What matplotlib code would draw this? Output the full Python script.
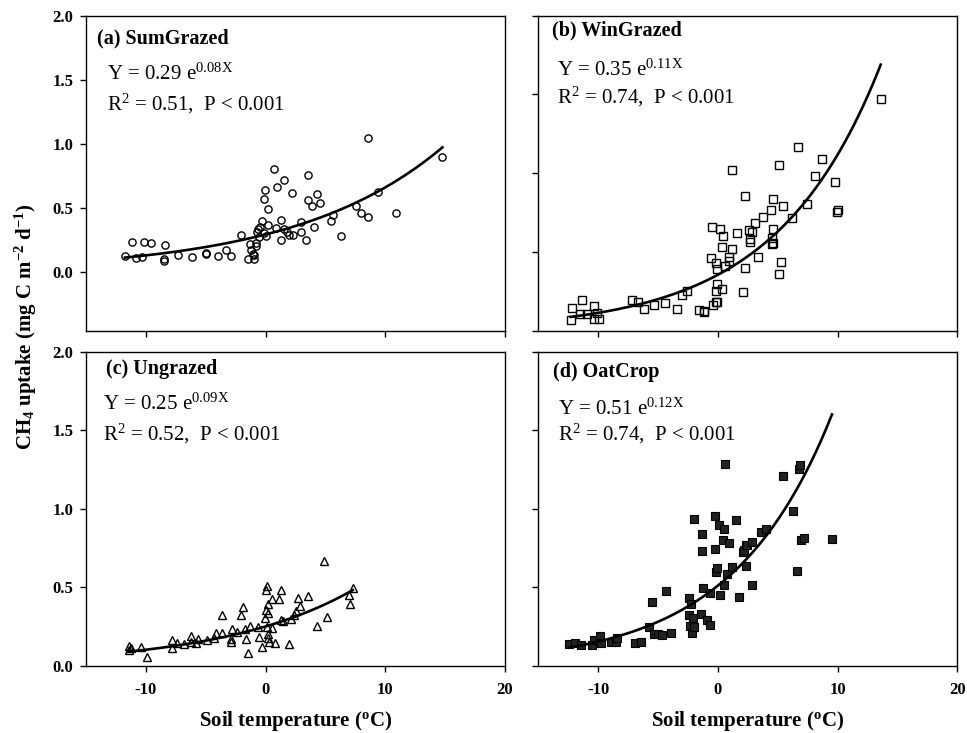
import numpy as np
import matplotlib
matplotlib.use("Agg")
import matplotlib.pyplot as plt

plt.rcParams['font.family'] = ['Liberation Serif', 'DejaVu Serif']
plt.rcParams['mathtext.fontset'] = 'custom'
plt.rcParams['mathtext.rm'] = 'Liberation Serif'
plt.rcParams['mathtext.it'] = 'Liberation Serif:italic'
plt.rcParams['mathtext.bf'] = 'Liberation Serif:bold'

# ---------------- data ----------------
a_x = [-11.75, -11.17, -10.86, -10.33, -10.17, -9.56, -8.5, -8.5, -8.39, -7.28,
       -6.11, -5.0, -5.0, -3.97, -3.3, -2.92, -2.08, -1.5, -1.31, -1.19,
       -1.08, -0.97, -1.0, -0.83, -0.81, -0.69, -0.61, -0.56, -0.44, -0.31,
       -0.11, -0.06, -0.14, 0.03, 0.19, 0.19, 0.69, 0.86, 0.92, 1.31,
       1.31, 1.53, 1.53, 1.81, 1.97, 2.19, 2.31, 3.0, 3.0, 3.39,
       3.53, 3.53, 3.89, 4.08, 4.28, 4.58, 5.5, 5.61, 6.33, 7.53,
       7.97, 8.53, 8.58, 9.39, 10.86, 14.78]
a_y = [0.127, 0.234, 0.114, 0.119, 0.234, 0.228, 0.088, 0.099, 0.213, 0.13,
       0.117, 0.143, 0.153, 0.125, 0.174, 0.125, 0.286, 0.101, 0.218, 0.174,
       0.14, 0.104, 0.132, 0.226, 0.205, 0.312, 0.335, 0.278, 0.356, 0.402,
       0.571, 0.644, 0.304, 0.283, 0.496, 0.366, 0.807, 0.345, 0.665, 0.408,
       0.247, 0.719, 0.335, 0.312, 0.286, 0.62, 0.286, 0.389, 0.312, 0.254,
       0.758, 0.563, 0.517, 0.356, 0.607, 0.54, 0.4, 0.447, 0.283, 0.517,
       0.462, 0.428, 1.046, 0.626, 0.465, 0.898]

b_x = [-12.3, -12.19, -11.55, -11.39, -10.92, -10.33, -10.36, -10.08, -9.91, -7.16,
       -6.64, -6.14, -5.33, -4.39, -3.44, -2.97, -2.58, -1.58, -1.16, -1.19,
       -0.39, -0.19, -0.05, -0.19, -0.11, 0.34, -0.61, -0.19, -0.05, 0.58,
       0.95, 0.89, 0.34, 1.17, -0.53, 0.17, 0.42, 1.61, 1.17, 2.23,
       2.23, 2.11, 2.59, 2.64, 2.64, 2.89, 3.06, 3.31, 3.78, 4.45,
       4.64, 4.64, 4.53, 4.53, 4.64, 5.14, 5.42, 5.31, 5.12, 6.15,
       6.73, 7.48, 8.15, 8.67, 9.78, 9.95, 10.03, 13.6]
b_y = [0.068, 0.142, 0.106, 0.193, 0.106, 0.153, 0.072, 0.11, 0.074, 0.191,
       0.18, 0.136, 0.165, 0.174, 0.136, 0.225, 0.25, 0.133, 0.117, 0.127,
       0.161, 0.178, 0.18, 0.248, 0.294, 0.261, 0.458, 0.43, 0.39, 0.411,
       0.466, 0.439, 0.532, 0.515, 0.655, 0.642, 0.602, 0.621, 1.017, 0.852,
       0.394, 0.246, 0.636, 0.564, 0.58, 0.623, 0.68, 0.468, 0.72, 0.767,
       0.833, 0.648, 0.585, 0.549, 0.559, 1.049, 0.79, 0.436, 0.36, 0.712,
       1.167, 0.805, 0.981, 1.091, 0.943, 0.75, 0.763, 1.47]

c_x = [-11.44, -11.39, -11.28, -10.44, -9.92, -7.81, -7.78, -7.42, -6.83, -6.25,
       -6.22, -5.83, -5.61, -4.86, -4.31, -4.17, -3.67, -3.61, -2.89, -2.86,
       -2.78, -2.36, -2.06, -1.86, -1.75, -1.64, -1.44, -1.33, -0.67, -0.56,
       -0.33, -0.03, 0.03, 0.06, 0.11, 0.19, 0.14, 0.22, 0.22, 0.28,
       0.19, 0.5, 0.56, 0.83, 1.14, 1.28, 1.25, 1.47, 1.97, 2.14,
       2.39, 2.56, 2.75, 2.92, 3.58, 4.28, 4.89, 5.11, 6.97, 7.03, 7.28]
c_y = [0.125, 0.1, 0.11, 0.119, 0.057, 0.163, 0.11, 0.146, 0.138, 0.189,
       0.148, 0.146, 0.169, 0.163, 0.174, 0.21, 0.322, 0.206, 0.167, 0.15,
       0.235, 0.216, 0.32, 0.371, 0.231, 0.167, 0.078, 0.252, 0.248, 0.184,
       0.121, 0.301, 0.354, 0.481, 0.508, 0.333, 0.248, 0.201, 0.178, 0.153,
       0.392, 0.239, 0.424, 0.146, 0.424, 0.481, 0.294, 0.286, 0.138, 0.299,
       0.322, 0.347, 0.432, 0.381, 0.441, 0.256, 0.669, 0.311, 0.449, 0.39, 0.496]

d_x = [-12.41, -11.94, -11.41, -10.53, -10.33, -9.83, -9.8, -8.91, -8.5, -8.44,
       -6.96, -6.46, -5.75, -5.47, -5.36, -4.97, -4.64, -4.3, -3.89, -2.44,
       -2.39, -2.36, -2.25, -2.08, -2.14, -1.97, -2.0, -1.41, -1.3, -1.33,
       -1.22, -0.91, -0.66, -0.66, -0.25, -0.22, -0.16, -0.08, 0.06, 0.14,
       0.42, 0.5, 0.5, 0.59, 0.75, 0.89, 1.17, 1.53, 1.78, 2.11,
       2.17, 2.36, 2.36, 2.47, 2.81, 2.83, 3.59, 3.98, 5.4, 6.31,
       6.62, 6.79, 6.87, 6.95, 7.17, 9.53]
d_y = [0.136, 0.142, 0.131, 0.129, 0.163, 0.191, 0.142, 0.148, 0.153, 0.174,
       0.142, 0.15, 0.248, 0.403, 0.201, 0.201, 0.195, 0.477, 0.21, 0.322,
       0.43, 0.256, 0.396, 0.301, 0.21, 0.248, 0.936, 0.328, 0.837, 0.733,
       0.492, 0.29, 0.258, 0.466, 0.951, 0.742, 0.595, 0.621, 0.894, 0.451,
       0.799, 0.873, 0.517, 1.286, 0.585, 0.784, 0.631, 0.926, 0.436, 0.722,
       0.737, 0.638, 0.767, 0.771, 0.786, 0.513, 0.852, 0.873, 1.206, 0.987,
       0.602, 1.254, 1.278, 0.803, 0.814, 0.805]

# exponential fits Y = a * exp(b X)
fit_a = [0.294, 0.354, 0.25, 0.51]
fit_b = [0.081, 0.1149, 0.09, 0.12]

titles = ['(a) SumGrazed', '(b) WinGrazed', '(c) Ungrazed', '(d) OatCrop']
eq_a = ['0.29', '0.35', '0.25', '0.51']
eq_b = ['0.08', '0.11', '0.09', '0.12']
r2 = ['0.51', '0.74', '0.52', '0.74']

x_ticks = [-10, 0, 10, 20]
y_ticks = [0.0, 0.5, 1.0, 1.5, 2.0]

# ---------------- figure ----------------
fig = plt.figure(figsize=(9.67, 7.33), dpi=100)
W, H = 0.4333, 0.4295
pos = [[0.0889, 0.5491, W, H], [0.5567, 0.5491, W, H],
       [0.0889, 0.0918, W, 0.4284], [0.5567, 0.0918, W, 0.4284]]
xs = [a_x, b_x, c_x, d_x]
ys = [a_y, b_y, c_y, d_y]
markers = [dict(marker='o', ms=5.2, mfc='none', mec='black', mew=1.0),
           dict(marker='s', ms=5.3, mfc='none', mec='black', mew=1.0),
           dict(marker='^', ms=5.8, mfc='none', mec='black', mew=1.0),
           dict(marker='s', ms=5.8, mfc='#222222', mec='black', mew=0.8)]
ylims = [(-0.455, 2.0), (0, 2.0), (0, 2.0), (0, 2.0)]
title_pos = [(0.026, 0.926), (0.032, 0.952), (0.047, 0.944), (0.036, 0.936)]
eq_pos = [(0.051, 0.795), (0.045, 0.808), (0.040, 0.814), (0.048, 0.798)]
r_pos = [(0.051, 0.700), (0.045, 0.720), (0.040, 0.717), (0.048, 0.717)]

for i in range(4):
    ax = fig.add_axes(pos[i])
    x = np.array(xs[i]); y = np.array(ys[i])
    ax.plot(x, y, linestyle='none', zorder=2, **markers[i])
    xx = np.linspace(x.min(), x.max(), 200)
    ax.plot(xx, fit_a[i] * np.exp(fit_b[i] * xx), color='black', lw=1.9, zorder=3)
    ax.set_xlim(-15, 20)
    ax.set_ylim(*ylims[i])
    ax.set_xticks(x_ticks)
    ax.set_yticks(y_ticks)
    ax.tick_params(direction='out', length=4, width=1.0, labelsize=12)
    ax.tick_params(axis='x', pad=8)
    ax.tick_params(axis='y', pad=5)
    for lab in ax.get_xticklabels() + ax.get_yticklabels():
        lab.set_fontweight('bold')
    ax.yaxis.set_major_formatter(matplotlib.ticker.FormatStrFormatter('%.1f'))
    ax.xaxis.set_major_formatter(matplotlib.ticker.FormatStrFormatter('%d'))
    if i < 2:
        ax.tick_params(labelbottom=False)
    if i in (1, 3):
        ax.tick_params(labelleft=False)
    for s in ax.spines.values():
        s.set_linewidth(1.0)
    ax.text(*title_pos[i], titles[i], transform=ax.transAxes, fontsize=14.5,
            fontweight='bold', ha='left', va='center')
    ax.text(*eq_pos[i], 'Y = ' + eq_a[i] + ' e$^{' + eq_b[i] + '\\mathrm{X}}$',
            transform=ax.transAxes, fontsize=15, ha='left', va='baseline')
    ax.text(*r_pos[i], 'R$^2$ = ' + r2[i] + ',  P < 0.001',
            transform=ax.transAxes, fontsize=15, ha='left', va='baseline')
    if i >= 2:
        ax.set_xlabel('Soil temperature ($^\\mathbf{o}$C)', fontsize=15,
                      fontweight='bold', labelpad=8)

fig.text(0.027, 0.554, 'CH$_\\mathbf{4}$ uptake (mg C m$^\\mathbf{-2}$ d$^\\mathbf{-1}$)',
         rotation=90, fontsize=15, fontweight='bold', ha='center', va='center')

fig.savefig('out.png', dpi=100)
